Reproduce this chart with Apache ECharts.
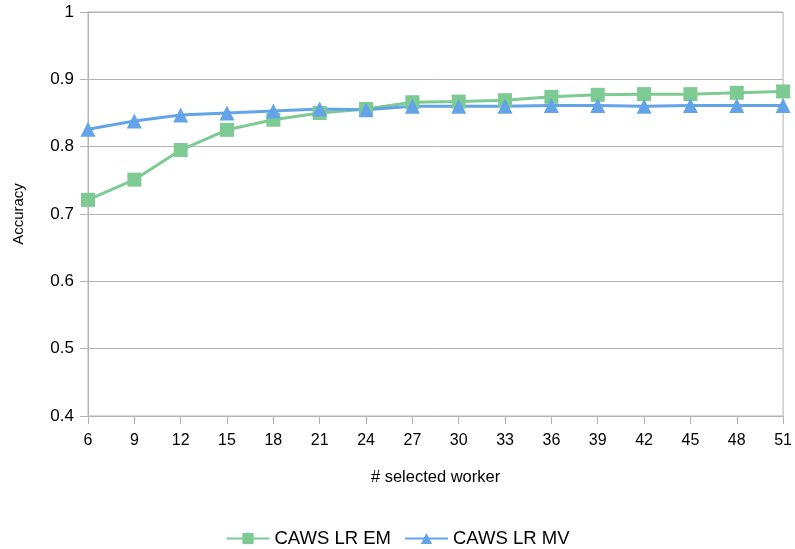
<!DOCTYPE html>
<html>
<head>
<meta charset="utf-8">
<script src="https://cdn.jsdelivr.net/npm/echarts@6/dist/echarts.min.js"></script>
<style>
  html, body { margin: 0; padding: 0; background: #fff; }
  #chart { width: 795px; height: 549px; }
</style>
</head>
<body>
<div id="chart"></div>
<script>
// x categories: number of selected workers
const workers = ['6', '9', '12', '15', '18', '21', '24', '27', '30', '33', '36', '39', '42', '45', '48', '51'];
const lrEM = [0.721, 0.751, 0.795, 0.825, 0.840, 0.850, 0.856, 0.866, 0.867, 0.869, 0.874, 0.877, 0.878, 0.878, 0.880, 0.882];
const lrMV = [0.826, 0.838, 0.847, 0.850, 0.853, 0.856, 0.855, 0.860, 0.860, 0.860, 0.861, 0.861, 0.860, 0.861, 0.861, 0.861];

const chart = echarts.init(document.getElementById('chart'));
const font = 'Liberation Sans';
const gray = '#b3b3b3';

chart.setOption({
  animation: false,
  textStyle: { fontFamily: font },
  grid: { left: 88, right: 9, top: 12, bottom: 133, show: true, borderColor: gray, borderWidth: 1 },
  legend: {
    top: 524,
    left: 'center',
    itemWidth: 43,
    itemHeight: 14,
    itemGap: 13,
    textStyle: { fontSize: 18.5, color: '#000', fontFamily: font },
    data: ['CAWS LR EM', 'CAWS LR MV']
  },
  xAxis: {
    type: 'category',
    data: workers,
    boundaryGap: false,
    name: '# selected worker',
    nameLocation: 'middle',
    nameGap: 53,
    nameTextStyle: { fontSize: 16.5, color: '#000' },
    axisLine: { lineStyle: { color: gray } },
    axisTick: { show: true, length: 8, lineStyle: { color: gray } },
    axisLabel: { fontSize: 16, color: '#000', margin: 17 },
    splitLine: { show: false }
  },
  yAxis: {
    type: 'value',
    min: 0.4,
    max: 1,
    interval: 0.1,
    name: 'Accuracy',
    nameLocation: 'middle',
    nameGap: 62,
    nameTextStyle: { fontSize: 15, color: '#000' },
    axisLine: { show: true, lineStyle: { color: gray } },
    axisTick: { show: true, length: 8, lineStyle: { color: gray } },
    axisLabel: { fontSize: 17, color: '#000', margin: 14, formatter: v => String(Math.round(v * 10) / 10) },
    splitLine: { lineStyle: { color: gray } }
  },
  series: [
    {
      name: 'CAWS LR EM',
      type: 'line',
      data: lrEM,
      symbol: 'rect',
      symbolSize: 14,
      color: '#7dca92',
      lineStyle: { width: 3 }
    },
    {
      name: 'CAWS LR MV',
      type: 'line',
      data: lrMV,
      symbol: 'triangle',
      symbolSize: 15,
      color: '#63a4e8',
      lineStyle: { width: 3 }
    }
  ]
});
</script>
</body>
</html>
